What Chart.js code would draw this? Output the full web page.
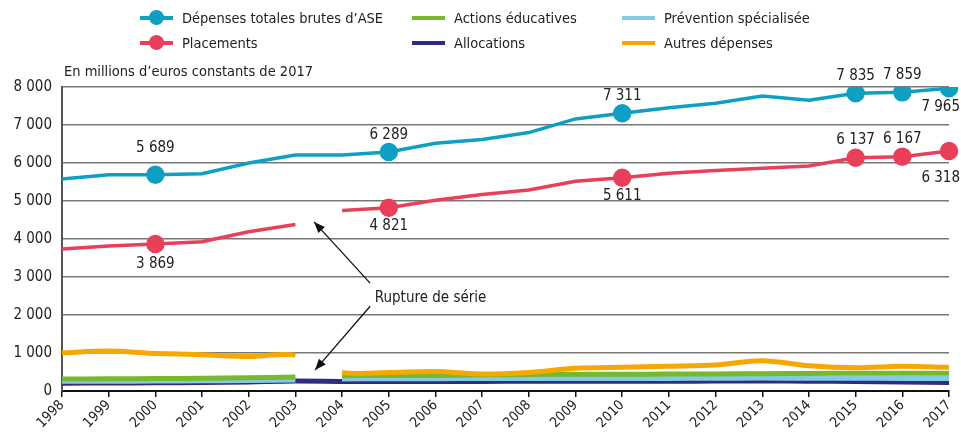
<!DOCTYPE html>
<html lang="fr">
<head>
    <meta charset="UTF-8">
    <title>Dépenses d'ASE</title>
    <script src="https://cdn.jsdelivr.net/npm/chart.js"></script>
    <style>
        body { margin: 0; background: #fff; }
        #wrap { position: relative; width: 961px; height: 433px; }
        #legend { position: absolute; left: 0; top: 0; width: 961px; height: 60px; font-family: 'Liberation Sans Narrow', 'DejaVu Sans Condensed', sans-serif; font-size: 14.5px; color: #222; }
        .item { position: absolute; display: flex; align-items: center; height: 20px; }
        .swatch { position: relative; width: 33px; height: 4px; margin-right: 9px; }
        .swatch .dot { position: absolute; left: 9px; top: -6px; width: 15px; height: 15px; border-radius: 50%; }
        #unit { position: absolute; left: 64px; top: 63px; font-family: 'Liberation Sans Narrow', 'DejaVu Sans Condensed', sans-serif; font-size: 14.5px; color: #222; }
    </style>
</head>
<body>
<div id="wrap">
    <canvas id="aseChart" width="961" height="433"></canvas>
    <div id="legend"></div>
    <div id="unit">En millions d’euros constants de 2017</div>
</div>

<script>
    const years = ['1998', '1999', '2000', '2001', '2002', '2003', '2004', '2005', '2006', '2007',
                   '2008', '2009', '2010', '2011', '2012', '2013', '2014', '2015', '2016', '2017'];

    const totalASE = [5580, 5690, 5689, 5720, 6000, 6210, 6210, 6289, 6520, 6620,
                      6800, 7160, 7311, 7455, 7570, 7760, 7650, 7835, 7859, 7965];
    const placements = [3740, 3815, 3869, 3930, 4190, 4380, 4750, 4821, 5020, 5170,
                        5290, 5520, 5611, 5730, 5800, 5860, 5920, 6137, 6167, 6318];
    const actionsEducatives = [316, 320, 326, 335, 350, 368, 403, 405, 410, 425,
                               435, 440, 440, 445, 450, 455, 462, 468, 470, 470];
    const allocations = [205, 210, 215, 225, 240, 260, 250, 248, 250, 252,
                         255, 255, 255, 258, 260, 262, 258, 252, 235, 225];
    const preventionSpecialisee = [255, 258, 262, 268, 278, 290, 318, 320, 322, 330,
                                   332, 330, 328, 330, 335, 340, 335, 335, 330, 330];
    const autresDepenses = [1005, 1050, 990, 955, 910, 945, 490, 485, 510, 447,
                            490, 597, 623, 650, 684, 798, 667, 614, 650, 623];

    const yTicks = [0, 1000, 2000, 3000, 4000, 5000, 6000, 7000, 8000];

    // index of the last year before the series break (2003 -> 2004)
    const breakAfter = 5;

    // labelled points: year index -> vertical offset of the value label
    const totalLabels = { 2: -27, 7: -17, 12: -17, 17: -17, 18: -17, 19: 19 };
    const placementLabels = { 2: 20, 7: 18, 12: 18, 17: -18, 18: -18, 19: 27 };

    const FONT = "'Liberation Sans Narrow', 'DejaVu Sans Condensed', sans-serif";
    Chart.defaults.font.family = FONT;
    Chart.defaults.color = '#222';

    const fmt = v => Math.round(v).toString().replace(/\B(?=(\d{3})+(?!\d))/g, ' ');

    const radii = labels => years.map((_, i) => (i in labels ? 7.5 : 0));
    const brokenSegment = { borderColor: ctx => (ctx.p0DataIndex === breakAfter ? 'transparent' : undefined) };

    const datasets = [
        { label: 'Dépenses totales brutes d’ASE', data: totalASE, borderColor: '#0f9fc2', backgroundColor: '#0f9fc2',
          borderWidth: 3.5, pointRadius: radii(totalLabels), pointHoverRadius: 0, order: 1, valueLabels: totalLabels, dot: true },
        { label: 'Placements', data: placements, borderColor: '#e8405a', backgroundColor: '#e8405a',
          borderWidth: 3.5, pointRadius: radii(placementLabels), pointHoverRadius: 0, order: 2, valueLabels: placementLabels,
          segment: brokenSegment, dot: true },
        { label: 'Actions éducatives', data: actionsEducatives, borderColor: '#77b82c', backgroundColor: '#77b82c',
          borderWidth: 5, pointRadius: 0, tension: 0.3, order: 4, segment: brokenSegment },
        { label: 'Allocations', data: allocations, borderColor: '#2f2a84', backgroundColor: '#2f2a84',
          borderWidth: 5, pointRadius: 0, tension: 0.3, order: 6 },
        { label: 'Prévention spécialisée', data: preventionSpecialisee, borderColor: '#82cbe2', backgroundColor: '#82cbe2',
          borderWidth: 5, pointRadius: 0, tension: 0.3, order: 5, segment: brokenSegment },
        { label: 'Autres dépenses', data: autresDepenses, borderColor: '#f6a800', backgroundColor: '#f6a800',
          borderWidth: 5, pointRadius: 0, tension: 0.3, order: 3, segment: brokenSegment }
    ];

    // value labels next to the marked points
    const valueLabelPlugin = {
        id: 'valueLabels',
        afterDatasetsDraw(chart) {
            const ctx = chart.ctx;
            ctx.save();
            ctx.font = '15px ' + FONT;
            ctx.fillStyle = '#222';
            ctx.textAlign = 'center';
            ctx.textBaseline = 'middle';
            chart.data.datasets.forEach((ds, di) => {
                if (!ds.valueLabels) return;
                const meta = chart.getDatasetMeta(di);
                Object.entries(ds.valueLabels).forEach(([idx, dy]) => {
                    const pt = meta.data[idx];
                    const text = fmt(ds.data[idx]);
                    const w = ctx.measureText(text).width;
                    const x = Math.min(pt.x, chart.width - 1 - w / 2);
                    ctx.fillText(text, x, pt.y + dy);
                });
            });
            ctx.restore();
        }
    };

    // "Rupture de série" note with two arrows pointing at the break
    const breakNotePlugin = {
        id: 'breakNote',
        afterDraw(chart) {
            const xs = chart.scales.x, ys = chart.scales.y;
            const ctx = chart.ctx;
            const from1 = [xs.getPixelForValue(6.6), ys.getPixelForValue(2840)];
            const to1 = [xs.getPixelForValue(5.4), ys.getPixelForValue(4450)];
            const from2 = [xs.getPixelForValue(6.6), ys.getPixelForValue(2230)];
            const to2 = [xs.getPixelForValue(5.42), ys.getPixelForValue(550)];
            ctx.save();
            ctx.strokeStyle = '#111';
            ctx.fillStyle = '#111';
            ctx.lineWidth = 1.3;
            [[from1, to1], [from2, to2]].forEach(([a, b]) => {
                ctx.beginPath();
                ctx.moveTo(a[0], a[1]);
                ctx.lineTo(b[0], b[1]);
                ctx.stroke();
                const ang = Math.atan2(b[1] - a[1], b[0] - a[0]);
                const len = 12, spread = 0.38;
                ctx.beginPath();
                ctx.moveTo(b[0], b[1]);
                ctx.lineTo(b[0] - len * Math.cos(ang - spread), b[1] - len * Math.sin(ang - spread));
                ctx.lineTo(b[0] - len * Math.cos(ang + spread), b[1] - len * Math.sin(ang + spread));
                ctx.closePath();
                ctx.fill();
            });
            ctx.font = '15px ' + FONT;
            ctx.fillStyle = '#222';
            ctx.textAlign = 'left';
            ctx.textBaseline = 'middle';
            ctx.fillText('Rupture de série', xs.getPixelForValue(6.7), ys.getPixelForValue(2450));
            ctx.restore();
        }
    };

    const chart = new Chart(document.getElementById('aseChart'), {
        type: 'line',
        data: { labels: years, datasets: datasets },
        options: {
            responsive: false,
            animation: false,
            events: [],
            layout: { padding: { top: 87, right: 12, left: 0, bottom: 0 } },
            plugins: {
                legend: { display: false },
                tooltip: { enabled: false }
            },
            scales: {
                x: {
                    offset: false,
                    afterFit: s => { s.height = 42; },
                    border: { color: '#111', width: 2 },
                    grid: { drawOnChartArea: false, drawTicks: true, tickLength: 6, color: '#111', lineWidth: 1.5 },
                    ticks: { maxRotation: 45, minRotation: 45, autoSkip: false, padding: 0, font: { size: 14 }, color: '#222' }
                },
                y: {
                    min: 0,
                    max: 8000,
                    afterFit: s => { s.width = 62; },
                    afterBuildTicks: s => { s.ticks = yTicks.map(v => ({ value: v })); },
                    border: { color: '#555', width: 2 },
                    grid: { color: '#777', lineWidth: 1.5, drawTicks: false },
                    ticks: { padding: 10, font: { size: 15 }, color: '#222', callback: v => fmt(v) }
                }
            }
        },
        plugins: [valueLabelPlugin, breakNotePlugin]
    });

    // legend laid out in three columns, two rows
    const legendSlots = [[140, 8], [140, 33], [412, 8], [412, 33], [622, 8], [622, 33]];
    const legendDiv = document.getElementById('legend');
    chart.data.datasets.forEach((ds, k) => {
        const item = document.createElement('div');
        item.className = 'item';
        item.style.left = legendSlots[k][0] + 'px';
        item.style.top = legendSlots[k][1] + 'px';
        const sw = document.createElement('div');
        sw.className = 'swatch';
        sw.style.background = ds.borderColor;
        if (ds.dot) {
            const dot = document.createElement('div');
            dot.className = 'dot';
            dot.style.background = ds.borderColor;
            sw.appendChild(dot);
        }
        const txt = document.createElement('span');
        txt.textContent = ds.label;
        item.appendChild(sw);
        item.appendChild(txt);
        legendDiv.appendChild(item);
    });
</script>
</body>
</html>
